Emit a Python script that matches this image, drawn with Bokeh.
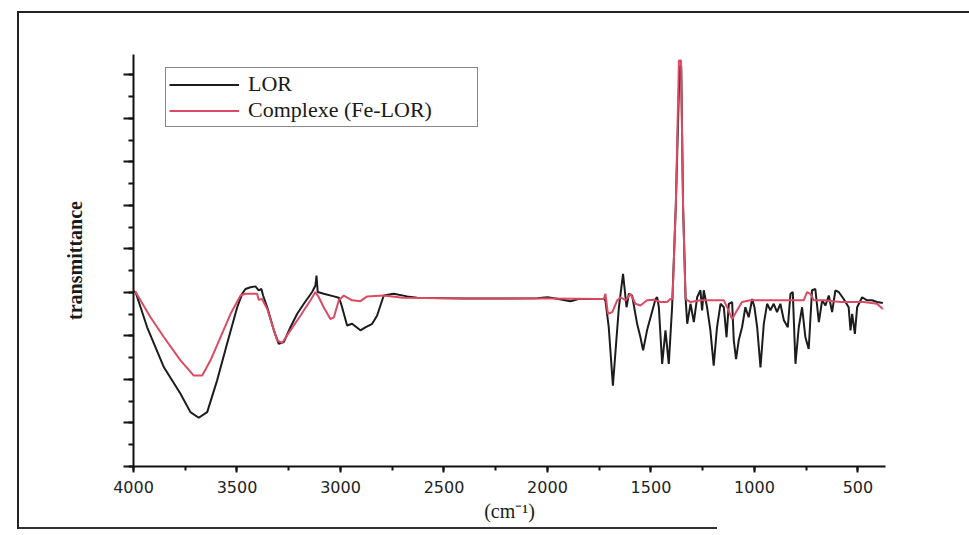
from bokeh.plotting import figure
from bokeh.models import Range1d, SingleIntervalTicker, Legend, LegendItem
from bokeh.embed import file_html
from bokeh.resources import INLINE

# ---- data (wavenumber cm^-1, transmittance in arbitrary units) ----
lor_wn = [4000, 3990, 3934, 3853, 3773, 3725, 3685, 3644, 3596, 3548, 3499, 3475,
          3459, 3435, 3411, 3395, 3382, 3374, 3354, 3322, 3298, 3274, 3242, 3209,
          3177, 3137, 3121, 3116, 3110, 3081, 3032, 3008, 2997, 2968, 2944, 2904,
          2880, 2847, 2823, 2791, 2743, 2678, 2630, 2400, 2200, 2050, 2000, 1960,
          1889, 1850, 1728, 1720, 1704, 1684, 1655, 1635, 1618, 1607, 1591, 1567,
          1551, 1538, 1519, 1502, 1478, 1470, 1462, 1446, 1430, 1414, 1398, 1380,
          1362, 1354, 1345, 1333, 1325, 1309, 1293, 1277, 1261, 1253, 1245, 1229,
          1213, 1197, 1181, 1164, 1148, 1135, 1124, 1108, 1100, 1089, 1076, 1060,
          1044, 1028, 1011, 1000, 987, 971, 955, 939, 923, 907, 891, 875, 858, 839,
          826, 815, 802, 786, 770, 754, 738, 722, 706, 689, 673, 657, 641, 625, 609,
          593, 569, 545, 536, 528, 515, 504, 480, 456, 432, 408, 380]
lor_t = [4.02, 4.01, 3.20, 2.28, 1.67, 1.25, 1.12, 1.25, 1.98, 2.82, 3.66, 3.97,
         4.08, 4.12, 4.14, 4.05, 4.08, 3.93, 3.66, 3.13, 2.82, 2.86, 3.20, 3.51,
         3.74, 4.01, 4.16, 4.39, 4.01, 3.97, 3.91, 3.88, 3.74, 3.24, 3.28, 3.13,
         3.20, 3.28, 3.47, 3.93, 3.97, 3.91, 3.88, 3.86, 3.86, 3.87, 3.89, 3.86,
         3.80, 3.85, 3.85, 3.82, 3.20, 1.86, 3.66, 4.43, 3.66, 3.97, 3.93, 3.28,
         2.97, 2.67, 3.13, 3.43, 3.85, 3.89, 3.66, 2.36, 3.13, 2.36, 3.66, 6.00,
         9.20, 9.20, 6.00, 3.89, 3.28, 3.74, 3.32, 3.89, 4.05, 3.59, 4.05, 3.66,
         3.13, 2.32, 3.20, 3.74, 3.66, 2.97, 3.74, 3.78, 2.90, 2.47, 2.90, 3.20,
         3.66, 3.43, 3.85, 3.66, 3.20, 2.28, 3.28, 3.74, 3.59, 3.74, 3.55, 3.74,
         3.36, 3.20, 3.97, 4.01, 2.36, 3.20, 3.66, 2.97, 2.70, 4.05, 4.08, 3.32,
         3.82, 3.70, 3.93, 3.55, 4.05, 4.01, 3.85, 3.66, 3.13, 3.51, 3.05, 3.66,
         3.89, 3.82, 3.82, 3.78, 3.76]

fe_wn = [4000, 3990, 3918, 3853, 3773, 3709, 3668, 3628, 3580, 3531, 3483, 3459,
         3403, 3395, 3379, 3354, 3306, 3282, 3242, 3193, 3145, 3121, 3105, 3081,
         3049, 3032, 3008, 2984, 2944, 2904, 2871, 2791, 2700, 2400, 2000, 1728,
         1720, 1708, 1687, 1663, 1647, 1623, 1599, 1575, 1551, 1519, 1486, 1454,
         1422, 1406, 1396, 1380, 1365, 1355, 1345, 1333, 1309, 1261, 1148, 1132,
         1108, 1084, 1060, 1020, 762, 746, 730, 714, 665, 585, 472, 408, 380]
fe_t = [4.04, 4.01, 3.43, 2.97, 2.44, 2.09, 2.09, 2.44, 2.97, 3.51, 3.93, 3.97,
        3.97, 3.83, 3.85, 3.62, 2.90, 2.84, 3.13, 3.47, 3.82, 4.01, 3.89, 3.66,
        3.39, 3.43, 3.82, 3.93, 3.82, 3.80, 3.91, 3.93, 3.88, 3.86, 3.86, 3.85,
        3.97, 3.51, 3.55, 3.82, 3.89, 3.82, 3.97, 3.74, 3.70, 3.82, 3.83, 3.78,
        3.78, 3.85, 3.85, 6.00, 9.33, 9.33, 6.00, 3.85, 3.78, 3.82, 3.82, 3.66,
        3.39, 3.59, 3.78, 3.82, 3.82, 4.01, 3.97, 3.82, 3.82, 3.78, 3.78, 3.74,
        3.62]

series_names = ["LOR", "Complexe (Fe-LOR)"]
x_label = "(cm\u207b\u00b9)"
y_label = "transmittance"

W, H = 969, 535
frame_css = ("linear-gradient(#222,#222) 17px 11px / 2px 518px no-repeat, "
             "linear-gradient(#222,#222) 17px 11px / 952px 2px no-repeat, "
             "linear-gradient(#333,#333) 17px 527px / 700px 2px no-repeat, white")
p = figure(width=W, height=H, output_backend="svg", toolbar_location=None,
           x_range=Range1d(4000, 367), y_range=Range1d(0, 9.47),
           min_border_left=133, min_border_right=84, min_border_top=54,
           min_border_bottom=69, styles={"background": frame_css})
p.outline_line_color = None
p.grid.visible = False
p.background_fill_color = None
p.border_fill_color = None

# x axis
xa = p.xaxis[0]
xa.ticker = SingleIntervalTicker(interval=500, num_minor_ticks=2)
xa.axis_line_width = 2
xa.axis_line_color = "#111111"
xa.major_tick_out = 6
xa.major_tick_in = 0
xa.minor_tick_out = 4
xa.minor_tick_in = 0
xa.major_tick_line_width = 2
xa.minor_tick_line_width = 2
xa.major_tick_line_color = "#111111"
xa.minor_tick_line_color = "#111111"
xa.major_label_text_font = "DejaVu Sans"
xa.major_label_text_font_size = "16px"
xa.major_label_text_color = "#222222"
xa.major_label_standoff = 8
xa.axis_label = x_label
xa.axis_label_text_font = "Liberation Serif"
xa.axis_label_text_font_style = "normal"
xa.axis_label_text_font_size = "20px"
xa.axis_label_text_color = "#1a1a1a"
xa.axis_label_standoff = 4

# y axis
ya = p.yaxis[0]
ya.ticker = SingleIntervalTicker(interval=1, num_minor_ticks=2)
ya.axis_line_width = 2
ya.axis_line_color = "#111111"
ya.major_tick_out = 10
ya.major_tick_in = 0
ya.minor_tick_out = 5
ya.minor_tick_in = 0
ya.major_tick_line_width = 2
ya.minor_tick_line_width = 2
ya.major_tick_line_color = "#111111"
ya.minor_tick_line_color = "#111111"
ya.major_label_text_font_size = "0px"
ya.major_label_text_alpha = 0
ya.major_label_standoff = 0
ya.axis_label = y_label
ya.axis_label_text_font = "Liberation Serif"
ya.axis_label_text_font_style = "bold"
ya.axis_label_text_font_size = "20px"
ya.axis_label_text_color = "#1a1a1a"
ya.axis_label_standoff = 38

r_lor = p.line(lor_wn, lor_t, line_color="#1c1c1c", line_width=2)
r_fe = p.line(fe_wn, fe_t, line_color="#dc4b63", line_width=2)

legend = Legend(items=[LegendItem(label=series_names[0], renderers=[r_lor]),
                       LegendItem(label=series_names[1], renderers=[r_fe])],
                location=(32, 339))
legend.label_text_font = "Liberation Serif"
legend.label_text_font_size = "22px"
legend.label_text_color = "#1a1a1a"
legend.label_height = 23
legend.glyph_height = 23
legend.glyph_width = 70
legend.label_standoff = 9
legend.label_width = 226
legend.spacing = 0
legend.padding = 3
legend.margin = 0
legend.border_line_color = "#111111"
legend.border_line_width = 1.5
legend.background_fill_alpha = 0
p.add_layout(legend, "center")

open("out.html", "w").write(file_html(p, INLINE))
